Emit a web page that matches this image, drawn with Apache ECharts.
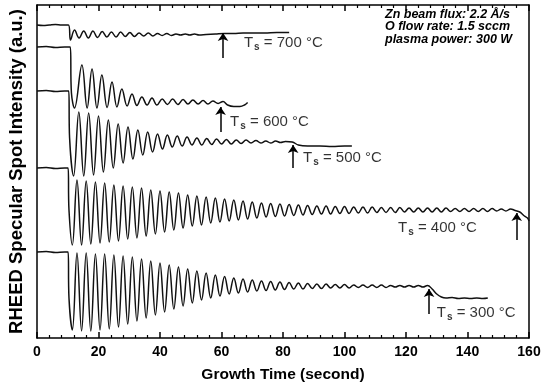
<!DOCTYPE html>
<html>
<head>
<meta charset="utf-8">
<script src="https://cdn.jsdelivr.net/npm/echarts@6/dist/echarts.min.js"></script>
<style>
  html, body { margin: 0; padding: 0; background: #fff; }
  #chart { width: 557px; height: 388px; }
</style>
</head>
<body>
<div id="chart"></div>
<script>
// RHEED intensity traces, [time (s), intensity (a.u.)]
// (oscillation extrema only, curves offset vertically as in the original)
const trace700 = [[0,313],[2,312.5],[4,313],[6,313.5],[8,313],[10.2,313],[10.9,298],[12.2,308],[13.7,300],[15.2,307],[16.7,300],[18.2,307],[19.7,300.5],[21.2,306.5],[22.7,301],[24.2,306],[25.7,301],[27.2,306],[28.7,301.5],[30.2,305.5],[31.7,301.5],[33.2,305],[34.7,302],[36.2,305],[37.7,302],[39.2,304.5],[40.7,302.5],[42.2,304.5],[43.7,302.5],[45.2,304],[46.7,303],[48.2,304],[49.7,303],[51.2,304],[52.7,303],[55,303.5],[58,304],[61,304.5],[64,304.5],[67,305],[70,305],[74,305],[78,305.5],[82,305.5]];

const trace600 = [[0,291],[3,291.5],[6,290.5],[9,291],[10.8,291],[11.2,245],[12.2,230],[14.6,273],[16.3,230],[17.9,269],[19.5,230],[21.1,263],[22.8,230.5],[24.4,256],[26.0,231],[27.6,249],[29.3,232],[30.9,244],[32.5,232.5],[34.1,241],[35.8,233],[37.4,240],[39.0,233],[40.7,239],[42.4,233.5],[44.1,239],[45.8,233.5],[47.5,238.5],[49.1,234],[50.7,238],[52.4,234],[54.0,237.5],[55.6,234],[57.2,237],[58.9,234.5],[60.5,236.5],[62,233],[64,231.5],[66,231.5],[67.5,233],[68.5,235.5]];

const trace500 = [[0,247],[3,247.5],[6,246.5],[9,247],[10.3,247],[10.6,200],[11.9,162],[13.6,226],[15.2,162],[16.8,225],[18.4,163],[20.0,222],[21.6,166],[23.2,218],[24.8,170],[26.4,214],[28.0,175],[29.6,211],[31.2,179],[32.8,208],[34.4,183],[36.0,206],[37.6,186],[39.2,204],[40.8,189],[42.4,203],[44.0,191],[45.6,202],[47.2,192],[48.8,201],[50.4,193],[52.0,200],[53.6,193],[55.2,199.5],[56.8,193.5],[58.4,199],[60.0,194],[61.6,198.5],[63.2,194],[64.8,198],[66.4,194.5],[68.0,198],[69.6,195],[71.2,197.5],[72.8,195],[74.4,197],[76.0,195],[77.6,197],[79.2,195.5],[80.8,196.5],[83,196],[85,193],[88,192],[92,192],[96,191.5],[100,192],[102.4,192]];

const trace400 = [[0,170],[3,170.5],[6,169.5],[9,170],[10.1,170],[10.4,128],[11.5,93],[13,158],[14.5,93],[16,157],[17.5,94],[19,156],[20.5,95],[22,155],[23.5,96],[25,153],[26.5,97],[28,152],[29.5,99],[31,151],[32.5,100],[34,150],[35.5,102],[37,148],[38.5,104],[40,147],[41.5,106],[43,146],[44.5,108],[46,145],[47.5,110],[49,143],[50.5,112],[52,142],[53.5,113],[55,141],[56.5,115],[58,140],[59.5,116],[61,139],[62.5,117],[64,138],[65.5,118],[67,137],[68.5,119],[70,136],[71.5,120],[73,135],[74.5,121],[76,134.5],[77.5,121.5],[79,134],[80.5,122],[82,133.5],[83.5,122.5],[85,133],[86.5,123],[88,132.5],[89.5,123.5],[91,132],[92.5,124],[94,132],[95.5,124],[97,131.5],[98.5,124.5],[100,131.5],[101.5,124.5],[103,131],[104.5,125],[106,131],[107.5,125],[109,131],[110.5,125.5],[112,130.5],[113.5,125.5],[115,130.5],[116.5,125.5],[118,130.5],[119.5,126],[121,130],[122.5,126],[124,130],[125.5,126],[127,130],[128.5,126],[130,130],[131.5,126],[133,130],[134.5,126.5],[136,129.5],[137.5,126.5],[139,129.5],[140.5,126.5],[142,129.5],[143.5,126.5],[145,129.5],[146.5,126.5],[148,129.5],[149.5,127],[151,129],[152.5,127],[154,129],[155.5,127.5],[157,126],[158.5,122],[159.5,120],[160,117]];

const trace300 = [[0,86],[3,86.5],[6,85.5],[9,86],[10.1,86],[10.4,40],[11.5,8],[13,85],[14.5,7],[16,85],[17.5,7],[19,84],[20.5,8],[22,84],[23.5,9],[25,83],[26.5,11],[28,82],[29.5,14],[31,81],[32.5,17],[34,79],[35.5,20],[37,77],[38.5,23],[40,75],[41.5,26],[43,73],[44.5,29],[46,71],[47.5,32],[49,69],[50.5,35],[52,67],[53.5,38],[55,65],[56.5,40],[58,63],[59.5,42],[61,61.5],[62.5,44],[64,60],[65.5,45],[67,59],[68.5,46],[70,58],[71.5,47],[73,57],[74.5,47.5],[76,56.5],[77.5,48],[79,56],[80.5,48.5],[82,55.5],[83.5,49],[85,55],[86.5,49],[88,54.5],[89.5,49.5],[91,54],[92.5,49.5],[94,54],[95.5,50],[97,53.5],[98.5,50],[100,53.5],[101.5,50],[103,53],[104.5,50.5],[106,53],[107.5,50.5],[109,53],[110.5,50.5],[112,53],[113.5,50.5],[115,52.5],[116.5,51],[118,52.5],[119.5,51],[121,52.5],[122.5,51],[124,52.5],[125.5,51],[127,52.5],[128.5,49],[130,44],[131.5,41],[133,40],[135,40.5],[137,39.5],[139,40],[141,39.5],[143,40],[145,39.5],[146.6,40]];

// growth-stop arrows: [time, tail, head]
const arrows = [[60.5, 280, 305], [59.7, 206, 231], [83.3, 170, 193], [156, 98, 125], [127.5, 24, 49]];
// temperature labels: [time, intensity, temperature]
const tempLabels = [[67.3, 295, '700'], [62.8, 216, '600'], [86.5, 180, '500'], [117.4, 110, '400'], [130, 25, '300']];
const conditions = ['Zn beam flux: 2.2 Å/s', 'O flow rate: 1.5 sccm', 'plasma power: 300 W'];

const traces = [trace700, trace600, trace500, trace400, trace300];
const FONT = 'Liberation Sans, Arial, sans-serif';

const chart = echarts.init(document.getElementById('chart'), null, { renderer: 'canvas' });

const axisX = {
  type: 'value', min: 0, max: 160, interval: 20,
  axisLine: { onZero: false, lineStyle: { color: '#000', width: 1.5 } },
  axisTick: { inside: true, length: 6, lineStyle: { color: '#000', width: 1.5 } },
  minorTick: { show: true, splitNumber: 5, length: 3, lineStyle: { color: '#000', width: 1.2 } },
  splitLine: { show: false }
};

const series = traces.map(function (d, i) {
  const a = arrows[i];
  return {
    type: 'line',
    data: d,
    showSymbol: false,
    smooth: 0.4,
    lineStyle: { color: '#111', width: 1.5 },
    silent: true,
    markLine: {
      silent: true,
      symbol: ['none', 'arrow'],
      symbolSize: 8,
      label: { show: false },
      lineStyle: { color: '#000', width: 1.5, type: 'solid' },
      data: [[{ coord: [a[0], a[1]] }, { coord: [a[0], a[2]] }]]
    }
  };
});

series.push({
  type: 'scatter',
  symbolSize: 0,
  silent: true,
  data: tempLabels.map(function (l) { return [l[0], l[1], l[2]]; }),
  label: {
    show: true,
    position: 'right',
    distance: 0,
    formatter: function (p) { return '{a|T}{b|s}{a| = ' + p.data[2] + ' °C}'; },
    rich: {
      a: { fontSize: 15, fontFamily: FONT, color: '#000' },
      b: { fontSize: 10, fontFamily: FONT, color: '#000', fontWeight: 'bold', padding: [9, 0, 0, 1] }
    }
  }
});

chart.setOption({
  animation: false,
  backgroundColor: '#fff',
  grid: { left: 37, right: 28, top: 5, bottom: 50, outerBoundsMode: 'none' },
  xAxis: [
    Object.assign({}, axisX, {
      position: 'bottom',
      axisLabel: { color: '#000', fontSize: 14, fontWeight: 'bold', fontFamily: FONT, margin: 7 },
      name: 'Growth Time (second)',
      nameLocation: 'middle',
      nameGap: 29,
      nameTextStyle: { color: '#000', fontSize: 15.5, fontWeight: 'bold', fontFamily: FONT }
    }),
    Object.assign({}, axisX, { position: 'top', axisLabel: { show: false } })
  ],
  yAxis: [
    {
      type: 'value', min: 0, max: 333,
      axisLine: { show: true, onZero: false, lineStyle: { color: '#000', width: 1.5 } },
      axisTick: { show: false }, axisLabel: { show: false }, splitLine: { show: false },
      name: 'RHEED Specular Spot Intensity (a.u.)',
      nameLocation: 'middle',
      nameGap: 11,
      nameTextStyle: { color: '#000', fontSize: 18.5, fontWeight: 'bold', fontFamily: FONT }
    },
    {
      type: 'value', min: 0, max: 333, position: 'right',
      axisLine: { show: true, onZero: false, lineStyle: { color: '#000', width: 1.5 } },
      axisTick: { show: false }, axisLabel: { show: false }, splitLine: { show: false }
    }
  ],
  graphic: [{
    type: 'text',
    left: 385,
    top: 8,
    style: {
      text: conditions.join('\n'),
      font: 'italic bold 12.5px ' + FONT,
      lineHeight: 12.5,
      fill: '#000'
    }
  }],
  series: series
});
</script>
</body>
</html>
